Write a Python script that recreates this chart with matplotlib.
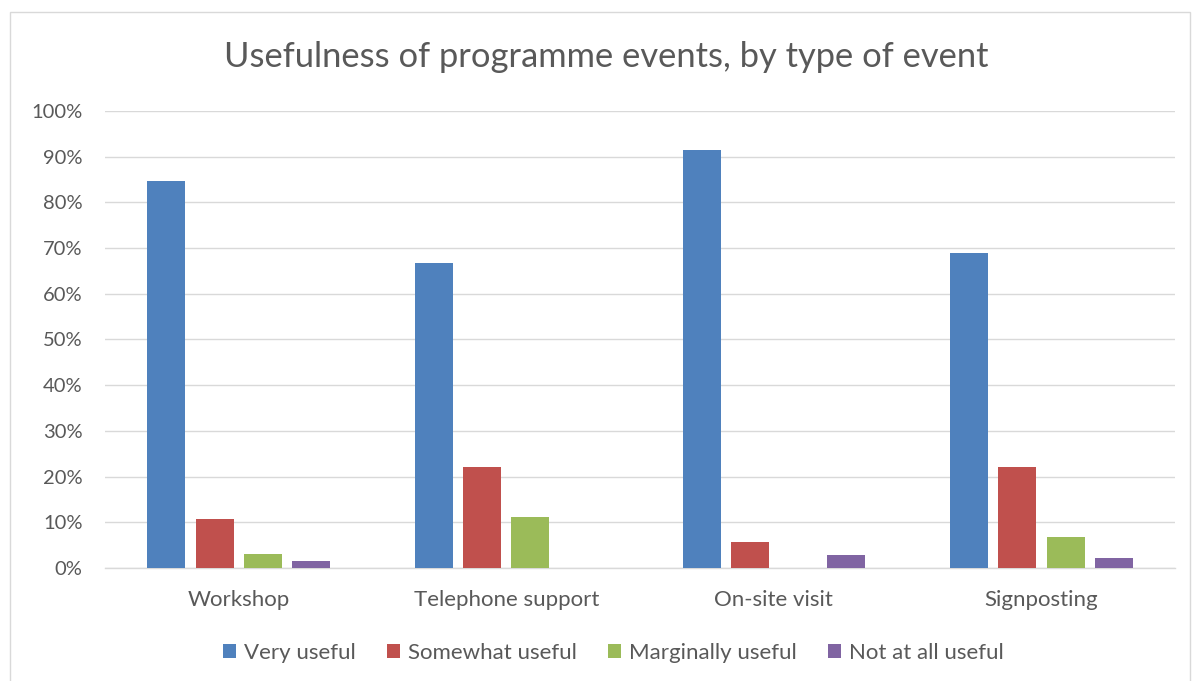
import matplotlib.pyplot as plt
import numpy as np
from matplotlib.patches import Rectangle
from matplotlib.ticker import PercentFormatter

plt.rcParams['font.family'] = ['Lato', 'DejaVu Sans']

events = ["Workshop", "Telephone support", "On-site visit", "Signposting"]
ratings = ["Very useful", "Somewhat useful", "Marginally useful", "Not at all useful"]
very_useful = [84.6, 66.7, 91.4, 68.9]
somewhat_useful = [10.8, 22.2, 5.7, 22.2]
marginally_useful = [3.1, 11.1, 0.0, 6.7]
not_useful = [1.5, 0.0, 2.9, 2.2]
colours = ["#4f81bd", "#c0504d", "#9bbb59", "#8064a2"]

TEXT = "#595959"

fig = plt.figure(figsize=(11.92, 6.81), dpi=100)
ax = fig.add_axes([0.088, 0.166, 0.898, 0.671])

# light grey chart frame
fig.patches.append(Rectangle((10 / 1192, -0.01), 1180 / 1192, 1 - 12 / 681 + 0.01,
                             transform=fig.transFigure, fill=False,
                             edgecolor="#d9d9d9", linewidth=1))

x = np.arange(len(events))
series = [very_useful, somewhat_useful, marginally_useful, not_useful]
bar_w = 0.142
step = 0.18
for i, (vals, name, col) in enumerate(zip(series, ratings, colours)):
    ax.bar(x + (i - 1.5) * step, vals, width=bar_w, color=col, label=name, zorder=3)

ax.set_xlim(-0.5, 3.5)
ax.set_ylim(0, 100)
ax.set_yticks(np.arange(0, 101, 10))
ax.yaxis.set_major_formatter(PercentFormatter(decimals=0))
ax.set_xticks(x)
ax.set_xticklabels(events)
ax.grid(axis="y", color="#d9d9d9", linewidth=1, zorder=0)
for s in ["top", "right", "left"]:
    ax.spines[s].set_visible(False)
ax.spines["bottom"].set_color("#d9d9d9")
ax.spines["bottom"].set_linewidth(1)
ax.tick_params(axis="both", length=0, colors=TEXT)
ax.tick_params(axis="x", pad=16, labelsize=16)
ax.tick_params(axis="y", pad=16, labelsize=14.5)

fig.text(0.509, 0.916, "Usefulness of programme events, by type of event",
         ha="center", va="center", fontsize=24.8, color=TEXT)

fig.legend(loc="center", bbox_to_anchor=(0.5147, 0.041), ncol=4, frameon=False,
           fontsize=16, labelcolor=TEXT, handlelength=0.6, handleheight=0.6,
           handletextpad=0.35, columnspacing=1.4)

fig.savefig("out.png", dpi=100)
